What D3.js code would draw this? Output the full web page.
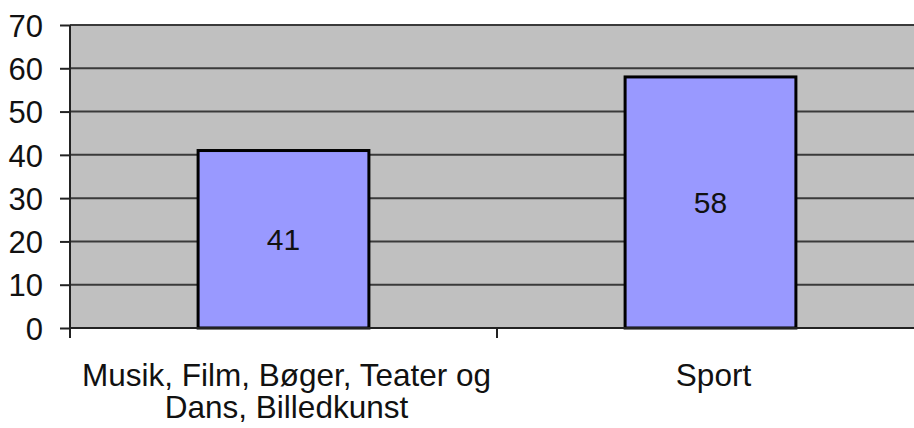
<!DOCTYPE html>
<html>
<head>
<meta charset="utf-8">
<script src="https://cdn.jsdelivr.net/npm/d3@7"></script>
<style>
  body { margin: 0; background: #fff; }
  svg text { font-family: "Liberation Sans", Arial, sans-serif; fill: #111; }
</style>
</head>
<body>
<svg id="chart" width="914" height="428"></svg>
<script>
'use strict';

var categories = [
  ['Musik, Film, Bøger, Teater og', 'Dans, Billedkunst'],
  ['Sport']
];
var values = [41, 58];
var yTicks = [0, 10, 20, 30, 40, 50, 60, 70];

(function() {
  var svg = d3.select('#chart');
  var left = 70, top = 25, bottom = 328, right = 924;

  var x = d3.scaleBand()
    .domain(d3.range(values.length))
    .range([left, right])
    .padding(0);

  var y = d3.scaleLinear()
    .domain([0, 70])
    .range([bottom, top]);

  // plot background
  svg.append('rect')
    .attr('x', left).attr('y', top)
    .attr('width', right - left).attr('height', bottom - top)
    .attr('fill', '#c0c0c0');

  // gridlines
  svg.append('g')
    .selectAll('line')
    .data(yTicks)
    .enter().append('line')
    .attr('x1', left).attr('x2', right)
    .attr('y1', function(d) { return y(d); })
    .attr('y2', function(d) { return y(d); })
    .attr('stroke', '#3a3a3a')
    .attr('stroke-width', 2);

  // y axis
  var yAxis = d3.axisLeft(y)
    .tickValues(yTicks)
    .tickSize(10)
    .tickSizeOuter(0)
    .tickPadding(17);

  var gy = svg.append('g')
    .attr('transform', 'translate(' + left + ',0)')
    .call(yAxis);
  gy.select('.domain').remove();
  gy.selectAll('.tick line').attr('stroke', '#222').attr('stroke-width', 2);
  gy.selectAll('.tick text')
    .style('font-size', '31px')
    .attr('dy', '0.36em');

  // bars
  var bw = x.bandwidth() * 0.4;
  var bars = svg.append('g');
  bars.selectAll('rect')
    .data(values)
    .enter().append('rect')
    .attr('x', function(d, i) { return x(i) + (x.bandwidth() - bw) / 2; })
    .attr('y', function(d) { return y(d); })
    .attr('width', bw)
    .attr('height', function(d) { return y(0) - y(d); })
    .attr('fill', '#9999ff')
    .attr('stroke', '#000')
    .attr('stroke-width', 3);

  bars.selectAll('text')
    .data(values)
    .enter().append('text')
    .attr('x', function(d, i) { return x(i) + x.bandwidth() / 2; })
    .attr('y', function(d) { return (y(d) + y(0)) / 2; })
    .attr('dy', '0.36em')
    .attr('text-anchor', 'middle')
    .style('font-size', '30px')
    .text(function(d) { return d; });

  // axis lines
  svg.append('line')
    .attr('x1', left).attr('x2', right)
    .attr('y1', bottom).attr('y2', bottom)
    .attr('stroke', '#222').attr('stroke-width', 2);
  svg.append('line')
    .attr('x1', left).attr('x2', left)
    .attr('y1', top).attr('y2', bottom + 10)
    .attr('stroke', '#222').attr('stroke-width', 2);

  // category boundary ticks
  var bounds = d3.range(values.length + 1).map(function(i) {
    return i < values.length ? x(i) : x(i - 1) + x.bandwidth();
  });
  svg.append('g')
    .selectAll('line')
    .data(bounds)
    .enter().append('line')
    .attr('x1', function(d) { return d; })
    .attr('x2', function(d) { return d; })
    .attr('y1', bottom).attr('y2', bottom + 10)
    .attr('stroke', '#222').attr('stroke-width', 2);

  // category labels
  var labels = svg.append('g')
    .selectAll('text')
    .data(categories)
    .enter().append('text')
    .attr('text-anchor', 'middle')
    .style('font-size', '31.5px')
    .attr('transform', function(d, i) {
      return 'translate(' + (x(i) + x.bandwidth() / 2 + 3) + ',386)';
    });
  labels.selectAll('tspan')
    .data(function(d) { return d; })
    .enter().append('tspan')
    .attr('x', 0)
    .attr('y', function(d, i) { return i * 32; })
    .text(function(d) { return d; });
}());
</script>
</body>
</html>
